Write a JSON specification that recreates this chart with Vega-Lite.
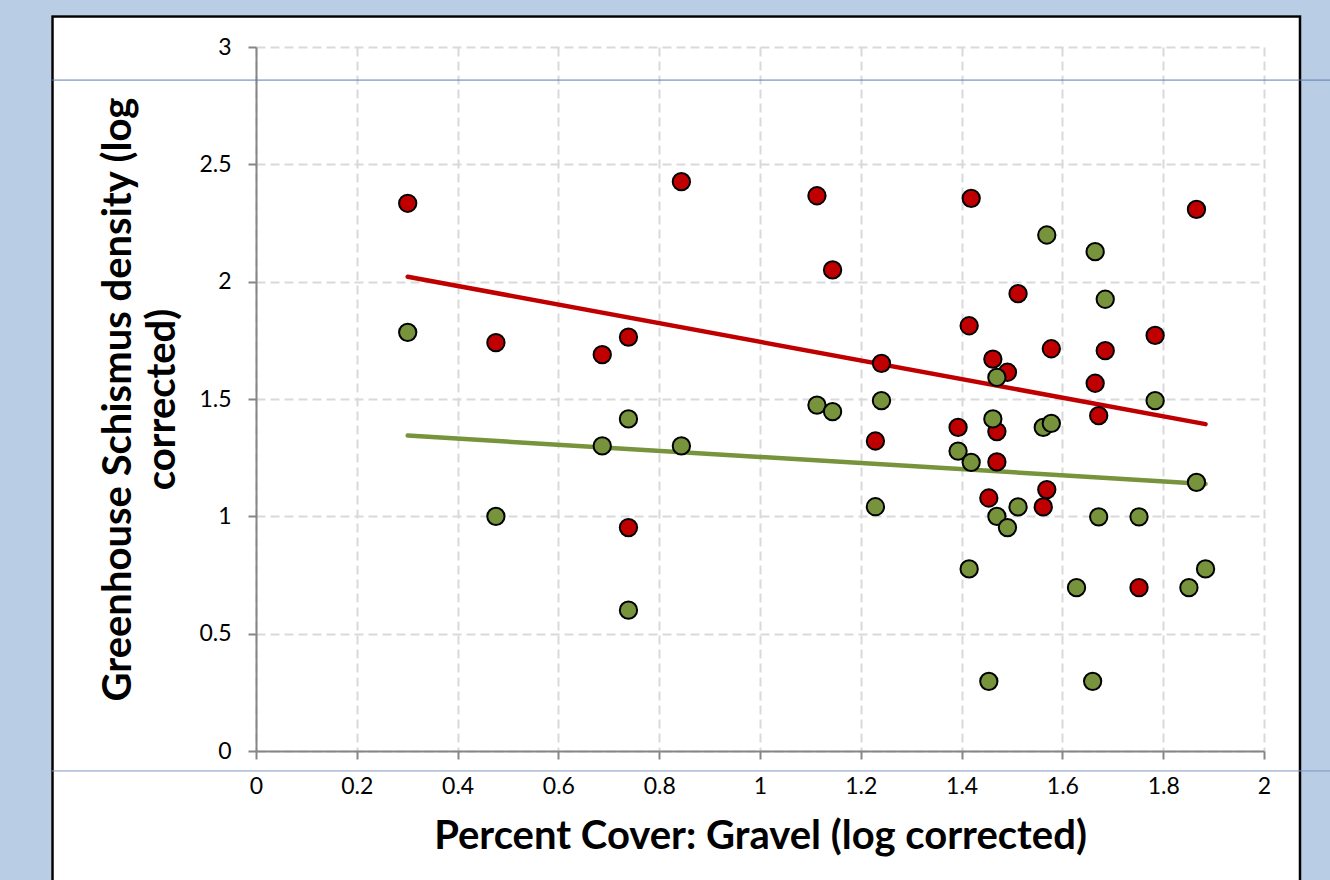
{
  "$schema": "https://vega.github.io/schema/vega-lite/v6.json",
  "autosize": "none",
  "width": 1008,
  "height": 704,
  "padding": {"left": 256, "top": 47, "right": 66, "bottom": 129},
  "background": "white",
  "config": {
    "view": {"stroke": null},
    "font": "Lato",
    "axis": {
      "labelFont": "Lato", "labelFontSize": 23, "labelColor": "black",
      "labelFlush": false, "labelOverlap": false, "labelBound": false,
      "domainColor": "#868686", "domainWidth": 2,
      "tickColor": "#868686", "tickWidth": 2, "tickSize": 8,
      "grid": true, "gridColor": "#D9D9D9", "gridDash": [9, 5], "gridWidth": 2,
      "titleFont": "Lato", "titleFontSize": 40, "titleFontWeight": "bold", "titleColor": "black"
    },
    "axisX": {"labelPadding": 16, "titleBaseline": "alphabetic", "titleY": 97},
    "axisY": {"labelPadding": 17, "titleAngle": 270, "titleAlign": "center", "titleBaseline": "alphabetic", "titleX": -126, "titleY": 352, "titleLineHeight": 44}
  },
  "datasets": {
    "points": [
      {"series": "Series 1", "gravel": 0.301, "density": 2.334},
      {"series": "Series 1", "gravel": 0.476, "density": 1.740},
      {"series": "Series 1", "gravel": 0.687, "density": 1.689},
      {"series": "Series 1", "gravel": 0.739, "density": 1.764},
      {"series": "Series 1", "gravel": 0.739, "density": 0.952},
      {"series": "Series 1", "gravel": 0.844, "density": 2.426},
      {"series": "Series 1", "gravel": 1.113, "density": 2.366},
      {"series": "Series 1", "gravel": 1.144, "density": 2.050},
      {"series": "Series 1", "gravel": 1.229, "density": 1.321},
      {"series": "Series 1", "gravel": 1.241, "density": 1.652},
      {"series": "Series 1", "gravel": 1.393, "density": 1.379},
      {"series": "Series 1", "gravel": 1.415, "density": 1.812},
      {"series": "Series 1", "gravel": 1.419, "density": 2.355},
      {"series": "Series 1", "gravel": 1.454, "density": 1.078},
      {"series": "Series 1", "gravel": 1.462, "density": 1.670},
      {"series": "Series 1", "gravel": 1.470, "density": 1.361},
      {"series": "Series 1", "gravel": 1.470, "density": 1.232},
      {"series": "Series 1", "gravel": 1.491, "density": 1.614},
      {"series": "Series 1", "gravel": 1.512, "density": 1.949},
      {"series": "Series 1", "gravel": 1.562, "density": 1.040},
      {"series": "Series 1", "gravel": 1.569, "density": 1.114},
      {"series": "Series 1", "gravel": 1.578, "density": 1.714},
      {"series": "Series 1", "gravel": 1.665, "density": 1.567},
      {"series": "Series 1", "gravel": 1.672, "density": 1.429},
      {"series": "Series 1", "gravel": 1.685, "density": 1.706},
      {"series": "Series 1", "gravel": 1.752, "density": 0.696},
      {"series": "Series 1", "gravel": 1.784, "density": 1.771},
      {"series": "Series 1", "gravel": 1.866, "density": 2.308},
      {"series": "Series 2", "gravel": 0.301, "density": 1.784},
      {"series": "Series 2", "gravel": 0.476, "density": 1.000},
      {"series": "Series 2", "gravel": 0.687, "density": 1.300},
      {"series": "Series 2", "gravel": 0.739, "density": 1.415},
      {"series": "Series 2", "gravel": 0.739, "density": 0.600},
      {"series": "Series 2", "gravel": 0.844, "density": 1.300},
      {"series": "Series 2", "gravel": 1.113, "density": 1.474},
      {"series": "Series 2", "gravel": 1.144, "density": 1.446},
      {"series": "Series 2", "gravel": 1.229, "density": 1.041},
      {"series": "Series 2", "gravel": 1.241, "density": 1.493},
      {"series": "Series 2", "gravel": 1.393, "density": 1.278},
      {"series": "Series 2", "gravel": 1.415, "density": 0.776},
      {"series": "Series 2", "gravel": 1.419, "density": 1.230},
      {"series": "Series 2", "gravel": 1.454, "density": 0.297},
      {"series": "Series 2", "gravel": 1.462, "density": 1.415},
      {"series": "Series 2", "gravel": 1.470, "density": 1.592},
      {"series": "Series 2", "gravel": 1.470, "density": 1.000},
      {"series": "Series 2", "gravel": 1.491, "density": 0.952},
      {"series": "Series 2", "gravel": 1.512, "density": 1.040},
      {"series": "Series 2", "gravel": 1.562, "density": 1.379},
      {"series": "Series 2", "gravel": 1.569, "density": 2.199},
      {"series": "Series 2", "gravel": 1.578, "density": 1.396},
      {"series": "Series 2", "gravel": 1.628, "density": 0.696},
      {"series": "Series 2", "gravel": 1.660, "density": 0.297},
      {"series": "Series 2", "gravel": 1.665, "density": 2.128},
      {"series": "Series 2", "gravel": 1.672, "density": 0.998},
      {"series": "Series 2", "gravel": 1.685, "density": 1.925},
      {"series": "Series 2", "gravel": 1.752, "density": 0.998},
      {"series": "Series 2", "gravel": 1.784, "density": 1.493},
      {"series": "Series 2", "gravel": 1.851, "density": 0.696},
      {"series": "Series 2", "gravel": 1.866, "density": 1.145},
      {"series": "Series 2", "gravel": 1.884, "density": 0.776}
    ],
    "trend": [
      {"series": "Series 1", "gravel": 0.301, "density": 2.021},
      {"series": "Series 1", "gravel": 1.884, "density": 1.393},
      {"series": "Series 2", "gravel": 0.301, "density": 1.344},
      {"series": "Series 2", "gravel": 1.884, "density": 1.138}
    ]
  },
  "layer": [
    {
      "data": {"values": [{}]},
      "mark": {"type": "rect", "fill": "transparent", "stroke": "#B9CDE4", "strokeWidth": 300},
      "encoding": {
        "x": {"datum": -0.7044, "type": "quantitative", "scale": {"domain": [0, 2], "nice": false, "zero": false}},
        "x2": {"datum": 2.371},
        "y": {"datum": 3.7755, "type": "quantitative", "scale": {"domain": [0, 3], "nice": false, "zero": false}},
        "y2": {"datum": -1.828}
      }
    },
    {
      "data": {"values": [{}]},
      "mark": {"type": "rect", "fill": "transparent", "stroke": "black", "strokeWidth": 2.5},
      "encoding": {
        "x": {"datum": -0.4038, "type": "quantitative"},
        "x2": {"datum": 2.0714},
        "y": {"datum": 3.1299, "type": "quantitative"},
        "y2": {"datum": -0.7}
      }
    },
    {
      "data": {"values": [{}]},
      "mark": {"type": "rule", "stroke": "#5B7DB1", "strokeWidth": 1},
      "encoding": {
        "x": {"datum": -0.405, "type": "quantitative"},
        "x2": {"datum": 2.14},
        "y": {"datum": 2.859, "type": "quantitative"}
      }
    },
    {
      "data": {"values": [{}]},
      "mark": {"type": "rule", "stroke": "#7F97C2", "strokeWidth": 1},
      "encoding": {
        "x": {"datum": -0.405, "type": "quantitative"},
        "x2": {"datum": 2.14},
        "y": {"datum": -0.085, "type": "quantitative"}
      }
    },
    {
      "data": {"name": "trend"},
      "mark": {"type": "line", "strokeWidth": 4.5, "strokeCap": "round"},
      "encoding": {
        "x": {"field": "gravel", "type": "quantitative"},
        "y": {"field": "density", "type": "quantitative"},
        "color": {"field": "series", "type": "nominal", "scale": {"domain": ["Series 1", "Series 2"], "range": ["#C00000", "#77933C"]}, "legend": null}
      }
    },
    {
      "data": {"name": "points"},
      "mark": {"type": "circle", "size": 300, "stroke": "black", "strokeWidth": 2, "opacity": 1},
      "encoding": {
        "x": {
          "field": "gravel", "type": "quantitative",
          "axis": {
            "values": [0, 0.2, 0.4, 0.6, 0.8, 1, 1.2, 1.4, 1.6, 1.8, 2],
            "format": "~g",
            "title": "Percent Cover: Gravel (log corrected)"
          }
        },
        "y": {
          "field": "density", "type": "quantitative",
          "axis": {
            "values": [0, 0.5, 1, 1.5, 2, 2.5, 3],
            "format": "~g",
            "title": ["Greenhouse Schismus density (log", "corrected)"]
          }
        },
        "color": {"field": "series", "type": "nominal", "scale": {"domain": ["Series 1", "Series 2"], "range": ["#C00000", "#77933C"]}, "legend": null}
      }
    }
  ]
}
